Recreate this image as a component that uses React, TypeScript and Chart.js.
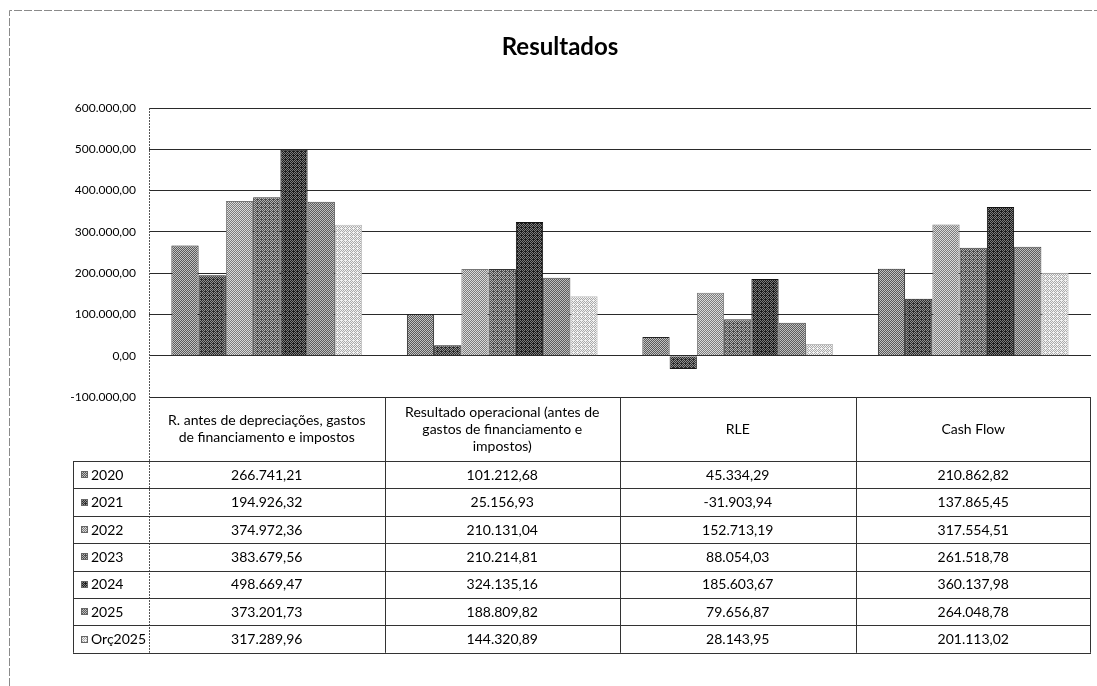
import React, { useEffect, useRef } from "react";
import { Chart, registerables } from "chart.js";

Chart.register(...registerables);

// ---------- DATA ----------
const categories: string[][] = [
  ["R. antes de depreciações, gastos", "de financiamento e impostos"],
  ["Resultado operacional (antes de", "gastos de financiamento e", "impostos)"],
  ["RLE"],
  ["Cash Flow"],
];
const seriesNames = ["2020", "2021", "2022", "2023", "2024", "2025", "Orç2025"];
const v2020 = [266741.21, 101212.68, 45334.29, 210862.82];
const v2021 = [194926.32, 25156.93, -31903.94, 137865.45];
const v2022 = [374972.36, 210131.04, 152713.19, 317554.51];
const v2023 = [383679.56, 210214.81, 88054.03, 261518.78];
const v2024 = [498669.47, 324135.16, 185603.67, 360137.98];
const v2025 = [373201.73, 188809.82, 79656.87, 264048.78];
const vOrc2025 = [317289.96, 144320.89, 28143.95, 201113.02];
const seriesValues = [v2020, v2021, v2022, v2023, v2024, v2025, vOrc2025];
const yMin = -100000;
const yMax = 600000;
const yStep = 100000;
const title = "Resultados";

// ---------- STYLE ----------
const FONT = "Lato, 'Open Sans', sans-serif";
const seriesStyle = [
  { lo: "#5a5a5a", hi: "#c2c2c2", frac: 0.5, border: "#222" },
  { lo: "#2c2c2c", hi: "#909090", frac: 0.45, border: "#1a1a1a" },
  { lo: "#7c7c7c", hi: "#dadada", frac: 0.5, border: "#777" },
  { lo: "#4c4c4c", hi: "#b2b2b2", frac: 0.45, border: "#333" },
  { lo: "#1c1c1c", hi: "#7c7c7c", frac: 0.42, border: "#111" },
  { lo: "#5c5c5c", hi: "#bebebe", frac: 0.5, border: "#444" },
  { lo: "#aaaaaa", hi: "#f2f2f2", frac: 0.55, border: "#bdbdbd" },
];
const bayer = [
  [0, 8, 2, 10],
  [12, 4, 14, 6],
  [3, 11, 1, 9],
  [15, 7, 13, 5],
];

function makePattern(ctx: CanvasRenderingContext2D, lo: string, hi: string, frac: number) {
  const c = document.createElement("canvas");
  c.width = 4;
  c.height = 4;
  const g = c.getContext("2d")!;
  for (let y = 0; y < 4; y++) {
    for (let x = 0; x < 4; x++) {
      const t = (bayer[y][x] + 0.5) / 16;
      g.fillStyle = t < frac ? hi : lo;
      g.fillRect(x, y, 1, 1);
    }
  }
  return ctx.createPattern(c, "repeat") as CanvasPattern;
}

function fmt(v: number): string {
  const neg = v < 0;
  const [i, d] = Math.abs(v).toFixed(2).split(".");
  const ii = i.replace(/\B(?=(\d{3})+(?!\d))/g, ".");
  return (neg ? "-" : "") + ii + "," + d;
}

const HEADER_H = 64;
const ROW_H = 27.4;
const LEGEND_LEFT = 73;

export default function App() {
  const ref = useRef<HTMLCanvasElement | null>(null);

  useEffect(() => {
    const canvas = ref.current!;
    const ctx0 = canvas.getContext("2d")!;
    const patterns = seriesStyle.map((s) => makePattern(ctx0, s.lo, s.hi, s.frac));

    const tablePlugin = {
      id: "dataTable",
      afterDraw(chart: any) {
        const ctx: CanvasRenderingContext2D = chart.ctx;
        const ca = chart.chartArea;
        const xs = chart.scales.x;
        const n = categories.length;
        const colW = ca.width / n;
        const headTop = Math.round(ca.bottom);
        const headBottom = headTop + HEADER_H;
        const tableBottom = headBottom + ROW_H * seriesNames.length;
        ctx.save();

        // outer frame
        ctx.strokeStyle = "#8a8a8a";
        ctx.lineWidth = 1;
        ctx.setLineDash([8, 2]);
        ctx.beginPath();
        ctx.moveTo(9.5, 686);
        ctx.lineTo(9.5, 10.5);
        ctx.lineTo(1097, 10.5);
        ctx.stroke();
        ctx.setLineDash([]);

        // title
        ctx.fillStyle = "#000";
        ctx.font = `bold 24px ${FONT}`;
        ctx.textAlign = "center";
        ctx.textBaseline = "alphabetic";
        ctx.fillText(title, 560, 55);

        // left axis line (dotted)
        ctx.strokeStyle = "#555";
        ctx.setLineDash([2, 1]);
        ctx.beginPath();
        ctx.moveTo(Math.round(ca.left) + 0.5, ca.top);
        ctx.lineTo(Math.round(ca.left) + 0.5, tableBottom);
        ctx.stroke();
        ctx.setLineDash([]);

        // table lines
        ctx.strokeStyle = "#333";
        ctx.lineWidth = 1;
        ctx.beginPath();
        ctx.moveTo(Math.round(ca.right) - 0.5, headTop);
        ctx.lineTo(Math.round(ca.right) - 0.5, tableBottom);
        for (let i = 1; i < n; i++) {
          const xx = Math.round(xs.getPixelForValue(i) - colW / 2) + 0.5;
          ctx.moveTo(xx, headTop);
          ctx.lineTo(xx, tableBottom);
        }
        ctx.moveTo(LEGEND_LEFT + 0.5, headBottom);
        ctx.lineTo(LEGEND_LEFT + 0.5, tableBottom);
        for (let r = 0; r <= seriesNames.length; r++) {
          const yy = Math.round(headBottom + r * ROW_H) + 0.5;
          ctx.moveTo(LEGEND_LEFT, yy);
          ctx.lineTo(ca.right, yy);
        }
        ctx.stroke();

        // header text
        ctx.fillStyle = "#000";
        ctx.font = `14px ${FONT}`;
        ctx.textAlign = "center";
        ctx.textBaseline = "middle";
        const lh = 17;
        categories.forEach((lines, i) => {
          const cx = xs.getPixelForValue(i);
          const cy = (headTop + headBottom) / 2;
          const y0 = cy - ((lines.length - 1) * lh) / 2;
          lines.forEach((ln, k) => ctx.fillText(ln, cx, y0 + k * lh));
        });

        // rows
        seriesNames.forEach((name, r) => {
          const cy = headBottom + r * ROW_H + ROW_H / 2 + 0.5;
          ctx.fillStyle = patterns[r];
          ctx.fillRect(81, Math.round(cy - 4), 7, 7);
          ctx.strokeStyle = "#666";
          ctx.strokeRect(81.5, Math.round(cy - 4) + 0.5, 6, 6);
          ctx.fillStyle = "#000";
          ctx.textAlign = "left";
          ctx.font = `14px ${FONT}`;
          ctx.fillText(name, 91, cy);
          ctx.textAlign = "center";
          seriesValues[r].forEach((v, i) => {
            ctx.fillText(fmt(v), xs.getPixelForValue(i), cy);
          });
        });
        ctx.restore();
      },
    };

    const chart = new Chart(canvas, {
      type: "bar",
      data: {
        labels: categories,
        datasets: seriesNames.map((name, i) => ({
          label: name,
          data: seriesValues[i],
          backgroundColor: patterns[i],
          borderColor: seriesStyle[i].border,
          borderWidth: 1,
          categoryPercentage: 0.81,
          barPercentage: 1.0,
        })),
      },
      options: {
        responsive: false,
        animation: false,
        layout: { padding: { left: 0, top: 108, right: 6, bottom: 289 } },
        plugins: {
          legend: { display: false },
          title: { display: false },
          tooltip: { enabled: false },
        },
        scales: {
          x: { display: false },
          y: {
            min: yMin,
            max: yMax,
            border: { display: false },
            grid: { color: "#2a2a2a", lineWidth: 1, drawTicks: false },
            ticks: {
              stepSize: yStep,
              padding: 13,
              color: "#000",
              font: { family: FONT, size: 12 },
              callback: (v: any) => fmt(Number(v)),
            },
            afterFit: (scale: any) => {
              scale.width = 149;
            },
          },
        },
      },
      plugins: [tablePlugin],
    });
    return () => chart.destroy();
  }, []);

  return (
    <div style={{ position: "fixed", left: 0, top: 0, width: 1097, height: 686, background: "#fff" }}>
      <canvas ref={ref} width={1097} height={686} />
    </div>
  );
}
